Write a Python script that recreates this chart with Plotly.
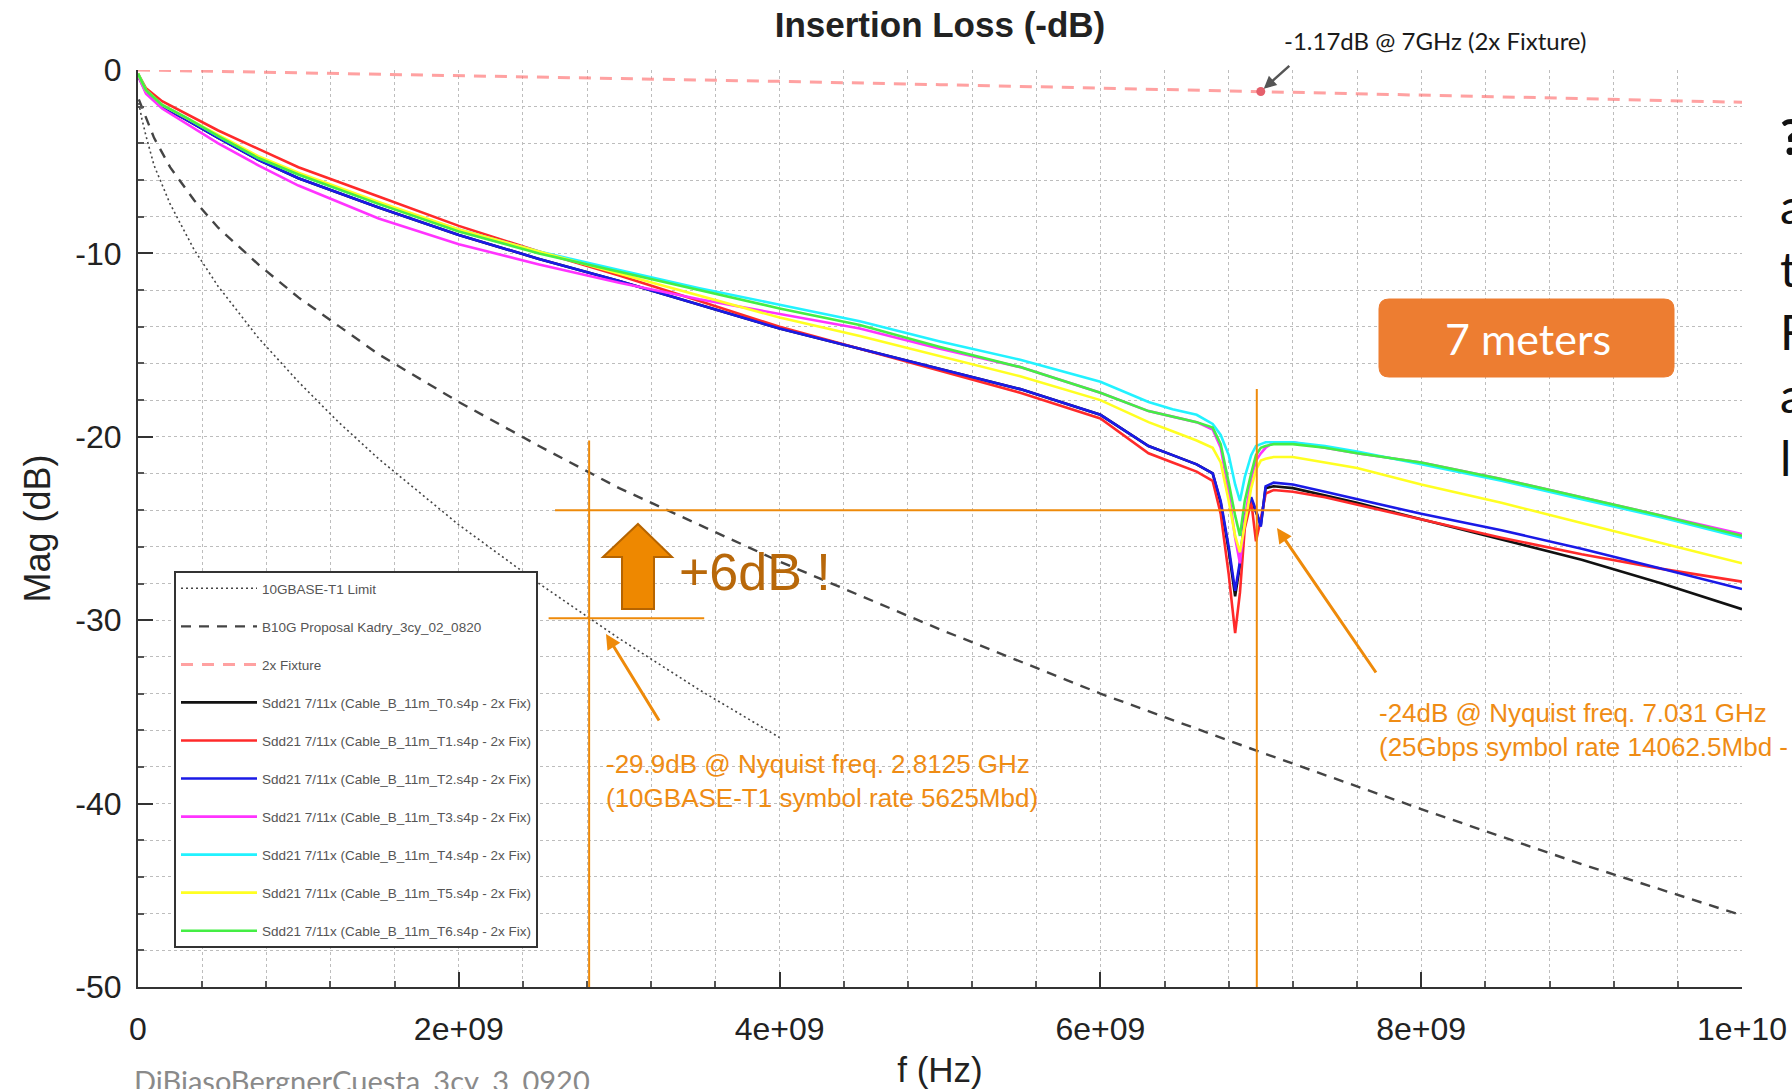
import plotly.graph_objects as go

# ---------------- data ----------------
FREQ_GHZ = [0, 0.05, 0.15, 0.3, 0.5, 0.75, 1.0, 1.5, 2.0, 2.5,
            3.0, 3.5, 4.0, 4.5, 5.0, 5.5, 6.0, 6.3, 6.45, 6.6,
            6.7, 6.75, 6.8, 6.84, 6.87, 6.9, 6.94, 6.97, 7.0, 7.03,
            7.08, 7.2, 7.4, 7.6, 8.0, 8.5, 9.0, 9.5, 10.0]

T0 = [-0.3, -1.2, -2.0, -2.7, -3.7, -4.9, -5.9, -7.5, -9.0, -10.3,
      -11.5, -12.8, -14.1, -15.2, -16.3, -17.4, -18.8, -20.5, -21.0, -21.5,
      -22.0, -23.6, -26.2, -28.7, -27.0, -24.4, -23.4, -24.1, -24.8, -22.8,
      -22.7, -22.8, -23.2, -23.6, -24.5, -25.6, -26.7, -28.0, -29.4]
T1 = [-0.2, -1.0, -1.7, -2.4, -3.3, -4.3, -5.3, -6.9, -8.5, -9.9,
      -11.2, -12.6, -14.0, -15.2, -16.4, -17.6, -19.0, -20.9, -21.4, -21.9,
      -22.4, -24.2, -27.5, -30.7, -28.5, -25.0, -23.5, -25.7, -24.5, -23.1,
      -22.9, -23.0, -23.3, -23.7, -24.5, -25.5, -26.4, -27.2, -27.9]
T2 = [-0.3, -1.2, -2.0, -2.7, -3.7, -4.9, -5.9, -7.5, -9.0, -10.3,
      -11.5, -12.8, -14.1, -15.2, -16.3, -17.4, -18.8, -20.5, -21.0, -21.5,
      -22.0, -23.5, -26.0, -28.4, -26.8, -24.3, -23.3, -24.0, -24.9, -22.7,
      -22.5, -22.6, -23.0, -23.4, -24.2, -25.1, -26.1, -27.2, -28.3]
T3 = [-0.3, -1.3, -2.1, -2.9, -4.0, -5.2, -6.3, -8.1, -9.5, -10.6,
      -11.6, -12.5, -13.3, -14.1, -15.2, -16.2, -17.6, -18.6, -18.9, -19.2,
      -19.6, -20.6, -23.0, -25.5, -26.9, -24.5, -22.3, -21.3, -20.9, -20.6,
      -20.3, -20.3, -20.6, -20.9, -21.4, -22.3, -23.3, -24.3, -25.3]
T4 = [-0.2, -1.1, -1.9, -2.6, -3.6, -4.8, -5.7, -7.3, -8.7, -9.9,
      -10.9, -11.9, -12.8, -13.7, -14.8, -15.8, -17.0, -18.1, -18.5, -18.8,
      -19.3, -19.9, -21.0, -22.6, -23.5, -22.2, -21.0, -20.5, -20.4, -20.3,
      -20.3, -20.3, -20.5, -20.8, -21.5, -22.4, -23.4, -24.4, -25.5]
T5 = [-0.2, -1.1, -1.9, -2.6, -3.5, -4.7, -5.6, -7.2, -8.7, -9.9,
      -11.1, -12.3, -13.5, -14.5, -15.6, -16.7, -18.0, -19.2, -19.7, -20.2,
      -20.6, -21.4, -23.5, -25.4, -26.3, -24.8, -22.8, -21.8, -21.3, -21.2,
      -21.1, -21.1, -21.4, -21.7, -22.6, -23.6, -24.7, -25.8, -26.9]
T6 = [-0.2, -1.1, -1.9, -2.6, -3.6, -4.8, -5.7, -7.3, -8.8, -10.0,
      -11.0, -12.0, -13.0, -13.9, -15.1, -16.2, -17.6, -18.6, -18.9, -19.2,
      -19.5, -20.4, -22.5, -24.3, -25.4, -23.5, -22.0, -21.0, -20.6, -20.5,
      -20.4, -20.4, -20.6, -20.9, -21.4, -22.3, -23.3, -24.3, -25.4]

LIMIT_F_GHZ = [0.005, 0.025, 0.05, 0.1, 0.2, 0.35, 0.5, 0.75, 1.0, 1.25,
               1.5, 2.0, 2.5, 2.8125, 3.0, 3.5, 4.0]
LIMIT = [-1.8, -2.7, -3.6, -5.2, -7.3, -9.8, -11.8, -14.6, -17.0, -19.2,
         -21.2, -24.8, -28.0, -29.9, -31.0, -33.8, -36.4]

PROP_F_GHZ = [0.005, 0.05, 0.1, 0.2, 0.35, 0.5, 0.75, 1.0, 1.5, 2.0,
              2.5, 3.0, 3.5, 4.0, 5.0, 6.0, 7.0, 8.0, 9.0, 10.0]
PROP = [-1.6, -2.6, -3.7, -5.3, -7.1, -8.6, -10.6, -12.4, -15.5, -18.1,
        -20.5, -22.8, -24.8, -26.8, -30.5, -34.0, -37.2, -40.3, -43.3, -46.1]

FIX_F_GHZ = [0, 1, 2, 3, 4, 5, 6, 7, 8, 9, 10]
FIX = [0, -0.15, -0.3, -0.45, -0.62, -0.8, -0.98, -1.17, -1.36, -1.56, -1.76]

MARK_F_GHZ = [7.0]
MARK_DB = [-1.17]

SERIES_NAMES = [
    "Sdd21 7/11x (Cable_B_11m_T0.s4p - 2x Fix)",
    "Sdd21 7/11x (Cable_B_11m_T1.s4p - 2x Fix)",
    "Sdd21 7/11x (Cable_B_11m_T2.s4p - 2x Fix)",
    "Sdd21 7/11x (Cable_B_11m_T3.s4p - 2x Fix)",
    "Sdd21 7/11x (Cable_B_11m_T4.s4p - 2x Fix)",
    "Sdd21 7/11x (Cable_B_11m_T5.s4p - 2x Fix)",
    "Sdd21 7/11x (Cable_B_11m_T6.s4p - 2x Fix)",
]
SERIES_VALUES = [T0, T1, T2, T3, T4, T5, T6]
SERIES_COLORS = ["#111111", "#ff2a2a", "#1a1ae6", "#ff33ff", "#22f2ff", "#ffff22", "#44ee44"]

X_TICKS = [0, 2e9, 4e9, 6e9, 8e9, 1e10]
X_TICK_TEXT = ["0", "2e+09", "4e+09", "6e+09", "8e+09", "1e+10"]
Y_TICKS = [0, -10, -20, -30, -40, -50]
Y_TICK_TEXT = ["0", "-10", "-20", "-30", "-40", "-50"]

NYQ_10G_HZ = 2.8125e9
IL_10G_DB = -29.9
NYQ_25G_HZ = 6.975e9      # where the marker line is drawn in the reference
IL_25G_DB = -24.0

# ---------------- layout geometry (pixels) ----------------
W, H = 1792, 1089
L, R, T, B = 138, 1742, 70, 987


def px(x):
    return (x - L) / (R - L)


def py(y):
    return (B - y) / (B - T)


def P(x, y):
    return f"{px(x):.5f},{py(y):.5f}"


GHZ = 1e9
fig = go.Figure()

fig.add_trace(go.Scatter(
    x=[f * GHZ for f in LIMIT_F_GHZ], y=LIMIT, mode="lines",
    name="10GBASE-T1 Limit", legendgroup="g0",
    line=dict(color="#444444", width=1.6, dash="2px,3px")))
fig.add_trace(go.Scatter(
    x=[f * GHZ for f in PROP_F_GHZ], y=PROP, mode="lines",
    name="B10G Proposal Kadry_3cy_02_0820", legendgroup="g1",
    line=dict(color="#444444", width=2.4, dash="10px,8px")))
fig.add_trace(go.Scatter(
    x=[f * GHZ for f in FIX_F_GHZ], y=FIX, mode="lines",
    name="2x Fixture", legendgroup="g2",
    line=dict(color="rgba(255,110,110,0.65)", width=3, dash="12px,9px")))

for i, (nm, vals, col) in enumerate(zip(SERIES_NAMES, SERIES_VALUES, SERIES_COLORS)):
    fig.add_trace(go.Scatter(
        x=[f * GHZ for f in FREQ_GHZ], y=vals, mode="lines",
        name=nm, legendgroup=f"s{i}",
        line=dict(color=col, width=2.6)))

fig.add_trace(go.Scatter(
    x=[f * GHZ for f in MARK_F_GHZ], y=MARK_DB, mode="markers",
    marker=dict(color="#e5606c", size=9), showlegend=False, hoverinfo="skip"))

ORANGE = "#ee8a0a"
shapes = [
    dict(type="line", xref="x", yref="y", x0=NYQ_10G_HZ, x1=NYQ_10G_HZ, y0=-50, y1=-20.2,
         line=dict(color=ORANGE, width=2)),
    dict(type="line", xref="x", yref="y", x0=NYQ_25G_HZ, x1=NYQ_25G_HZ, y0=-50, y1=-17.4,
         line=dict(color=ORANGE, width=2)),
    dict(type="line", xref="x", yref="y", x0=2.6e9, x1=7.12e9, y0=IL_25G_DB, y1=IL_25G_DB,
         line=dict(color=ORANGE, width=2)),
    dict(type="line", xref="x", yref="y", x0=2.56e9, x1=3.53e9, y0=IL_10G_DB, y1=IL_10G_DB,
         line=dict(color=ORANGE, width=2)),
]

# block up-arrow
arrow_pts = [(638, 524), (672, 557), (654, 557), (654, 609), (622, 609), (622, 557), (603, 557)]
arrow_path = "M " + " L ".join(P(x, y) for x, y in arrow_pts) + " Z"
shapes.append(dict(type="path", xref="paper", yref="paper", path=arrow_path,
                   fillcolor="#ee8800", line=dict(color="#b66400", width=2)))

# rounded "7 meters" box
bx0, bx1, by0, by1, r = 1379, 1674, 299, 377, 10
box_path = (f"M {P(bx0 + r, by0)} L {P(bx1 - r, by0)} Q {P(bx1, by0)} {P(bx1, by0 + r)} "
            f"L {P(bx1, by1 - r)} Q {P(bx1, by1)} {P(bx1 - r, by1)} "
            f"L {P(bx0 + r, by1)} Q {P(bx0, by1)} {P(bx0, by1 - r)} "
            f"L {P(bx0, by0 + r)} Q {P(bx0, by0)} {P(bx0 + r, by0)} Z")
shapes.append(dict(type="path", xref="paper", yref="paper", path=box_path,
                   fillcolor="#ed7d31", line=dict(color="#ed7d31", width=1)))


def text_ann(x, y, text, size, color, family="Liberation Sans, Arial",
             xanchor="left", yanchor="middle"):
    return dict(xref="paper", yref="paper", x=px(x), y=py(y), text=text,
                xanchor=xanchor, yanchor=yanchor, align="left", showarrow=False,
                font=dict(family=family, size=size, color=color))


ann = []
ann.append(text_ann(1528, 338, "7 meters", 43, "white", "Lato, Open Sans", xanchor="center"))
ann.append(text_ann(1282, 41, "-1.17dB @ 7GHz (2x Fixture)", 24, "#1a1a1a", "Lato, Open Sans"))
ann.append(dict(xref="x", yref="y", x=MARK_F_GHZ[0] * GHZ, y=MARK_DB[0], text="",
                showarrow=True, ax=30, ay=-27, arrowcolor="#555555", arrowwidth=2.5,
                arrowhead=2, arrowsize=1, standoff=4))
ann.append(dict(xref="paper", yref="paper", x=px(606), y=py(634), text="",
                showarrow=True, ax=54, ay=88, arrowcolor=ORANGE, arrowwidth=3,
                arrowhead=2, arrowsize=1))
ann.append(dict(xref="paper", yref="paper", x=px(1277), y=py(528), text="",
                showarrow=True, ax=100, ay=146, arrowcolor=ORANGE, arrowwidth=3,
                arrowhead=2, arrowsize=1))
ann.append(text_ann(604, 781, "-29.9dB @ Nyquist freq. 2.8125 GHz<br>(10GBASE-T1 symbol rate 5625Mbd)",
                    26, "#ef8c14"))
ann.append(text_ann(1377, 730, "-24dB @ Nyquist freq. 7.031 GHz<br>(25Gbps symbol rate 14062.5Mbd - 25GBASE-T1)",
                    26, "#ef8c14"))
ann.append(text_ann(677, 572, "+6dB !", 52, "#b8680a"))
ann.append(text_ann(132, 1061, "DiBiasoBergnerCuesta_3cy_3_0920", 29, "#8a8a8a",
                    "Lato, Open Sans", yanchor="top"))
# slide text cut off at the right edge
ann.append(text_ann(1778, 136, "<b>?</b>", 50, "#111111", "Lato, Open Sans"))
for ch, yy in zip(["a", "t", "F", "a", "l"], [206, 268, 331, 394, 457]):
    ann.append(text_ann(1778, yy, ch, 48, "#111111", "Lato, Open Sans"))

AXIS_FONT = dict(family="Liberation Sans, Arial", size=32, color="#222222")
GRID = "#bdbdbd"

fig.update_layout(
    width=W, height=H,
    margin=dict(l=L, r=W - R, t=T, b=H - B, autoexpand=False),
    paper_bgcolor="white", plot_bgcolor="white",
    title=dict(text="<b>Insertion Loss (-dB)</b>", x=0.5, xref="paper",
               y=1 - 25 / H, yref="container", yanchor="middle", automargin=False,
               font=dict(family="Liberation Sans, Arial", size=35, color="#222222")),
    showlegend=True,
    legend=dict(x=px(174), y=py(571), xanchor="left", yanchor="top",
                bgcolor="white", bordercolor="#333333", borderwidth=2,
                font=dict(family="Liberation Sans Narrow, Liberation Sans, Arial", size=13.5, color="#555555"),
                traceorder="grouped", tracegroupgap=17.5, itemwidth=76),
    shapes=shapes, annotations=ann,
    xaxis=dict(range=[0, 1e10], tickmode="array", tickvals=X_TICKS, ticktext=X_TICK_TEXT,
               automargin=False,
               showline=True, linecolor="#333333", linewidth=2, mirror=False,
               ticks="inside", ticklen=15, tickwidth=1.5, tickcolor="#333333",
               showgrid=True, gridcolor=GRID, gridwidth=1, griddash="dot",
               zeroline=False, tickfont=AXIS_FONT, ticklabelstandoff=13,
               minor=dict(dtick=0.4e9, tick0=0, showgrid=True, gridcolor=GRID, gridwidth=1,
                          griddash="dot", ticks="inside", ticklen=6, tickcolor="#555555"),
               title=dict(text="f (Hz)", standoff=15,
                          font=dict(family="Liberation Sans, Arial", size=35, color="#222222"))),
    yaxis=dict(range=[-50, 0], tickmode="array", tickvals=Y_TICKS, ticktext=Y_TICK_TEXT,
               automargin=False,
               showline=True, linecolor="#333333", linewidth=2, mirror=False,
               ticks="inside", ticklen=15, tickwidth=1.5, tickcolor="#333333",
               showgrid=True, gridcolor=GRID, gridwidth=1, griddash="dot",
               zeroline=False, tickfont=AXIS_FONT, ticklabelstandoff=8,
               minor=dict(dtick=2, tick0=0, showgrid=True, gridcolor=GRID, gridwidth=1,
                          griddash="dot", ticks="inside", ticklen=6, tickcolor="#555555"),
               title=dict(text="Mag (dB)", standoff=14,
                          font=dict(family="Liberation Sans, Arial", size=36, color="#222222"))),
)

fig.write_html("out.html", config={"displayModeBar": False},
               post_script="document.body.style.margin='0px';document.body.style.overflow='hidden';")
